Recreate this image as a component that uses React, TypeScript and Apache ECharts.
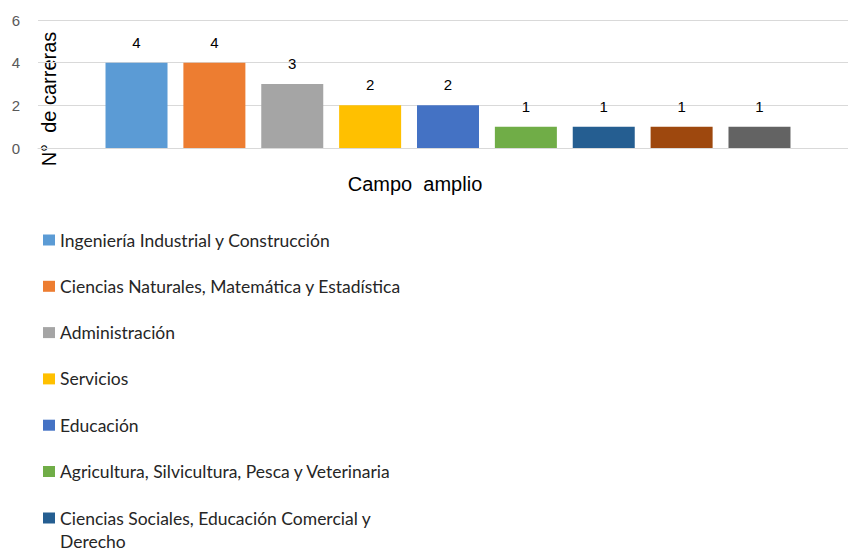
import React, { useEffect, useRef } from "react";
import * as echarts from "echarts";

const categories: string[] = [
  "Ingeniería Industrial y Construcción",
  "Ciencias Naturales, Matemática y Estadística",
  "Administración",
  "Servicios",
  "Educación",
  "Agricultura, Silvicultura, Pesca y Veterinaria",
  "Ciencias Sociales, Educación Comercial y Derecho",
  "Salud y Bienestar",
  "Artes y Humanidades",
];
const values: number[] = [4, 4, 3, 2, 2, 1, 1, 1, 1];
const colors: string[] = [
  "#5B9BD5",
  "#ED7D31",
  "#A5A5A5",
  "#FFC000",
  "#4472C4",
  "#70AD47",
  "#255E91",
  "#9E480E",
  "#636363",
];
const yTicks: number[] = [0, 2, 4, 6];
const xAxisTitle = "Campo  amplio";
const yAxisTitle = "N°  de carreras";
const wrappedLegend = ["Ciencias Sociales, Educación Comercial y", "Derecho"];

const legendFont = "Lato, 'Open Sans', sans-serif";
const arial = "'Liberation Sans', Arial, sans-serif";

export default function App() {
  const ref = useRef<HTMLDivElement>(null);
  useEffect(() => {
    if (!ref.current) return;
    const chart = echarts.init(ref.current, undefined, { renderer: "svg" });
    const series = categories.map((name, i) => ({
      name,
      type: "bar" as const,
      data: [values[i]],
      barWidth: 62,
      barGap: "25.6%",
      itemStyle: { color: colors[i] },
      label: {
        show: true,
        position: "top" as const,
        distance: 13,
        color: "#000",
        fontSize: 15,
        fontFamily: arial,
      },
    }));
    const legendText = {
      fontSize: 17.5,
      fontFamily: legendFont,
      color: "#262626",
      lineHeight: 23,
    };
    chart.setOption({
      animation: false,
      backgroundColor: "#fff",
      grid: {
        left: 38,
        top: 20,
        width: 820,
        height: 128,
        containLabel: false,
        outerBoundsMode: "none",
      },
      xAxis: {
        type: "category",
        data: [xAxisTitle],
        axisLabel: { show: false },
        axisTick: { show: false },
        axisLine: { show: true, lineStyle: { color: "#d9d9d9", width: 1 } },
      },
      yAxis: {
        type: "value",
        min: yTicks[0],
        max: yTicks[yTicks.length - 1],
        interval: 2,
        axisLine: { show: false },
        axisTick: { show: false },
        splitLine: { lineStyle: { color: "#d9d9d9", width: 1 } },
        axisLabel: {
          margin: 18,
          fontSize: 15,
          color: "#595959",
          fontFamily: arial,
        },
      },
      graphic: [
        {
          type: "text",
          x: 415,
          y: 184,
          style: {
            text: xAxisTitle,
            fontSize: 20,
            fontFamily: arial,
            fill: "#000",
            align: "center",
            verticalAlign: "middle",
          },
        },
        {
          type: "text",
          x: 49,
          y: 99,
          rotation: Math.PI / 2,
          style: {
            text: yAxisTitle,
            fontSize: 20,
            fontFamily: arial,
            fill: "#000",
            align: "center",
            verticalAlign: "middle",
          },
        },
      ],
      legend: [
        {
          orient: "vertical",
          left: 43,
          top: 228.5,
          padding: 0,
          itemWidth: 12,
          itemHeight: 11,
          itemGap: 23.3,
          icon: "rect",
          data: categories.slice(0, 6),
          textStyle: legendText,
        },
        {
          orient: "vertical",
          left: 43,
          top: 483.5,
          padding: 0,
          itemWidth: 12,
          itemHeight: 11,
          icon: "rect",
          data: [categories[6]],
          formatter: () =>
            "{p| }\n{t|" + wrappedLegend[0] + "}\n{t|" + wrappedLegend[1] + "}",
          textStyle: {
            ...legendText,
            rich: {
              p: { lineHeight: 23, fontSize: 17.5, fontFamily: legendFont },
              t: {
                lineHeight: 23,
                fontSize: 17.5,
                fontFamily: legendFont,
                color: "#262626",
              },
            },
          },
        },
      ],
      series,
    });
    return () => chart.dispose();
  }, []);
  return (
    <div
      ref={ref}
      style={{ position: "fixed", left: 0, top: 0, width: 848, height: 549, background: "#fff" }}
    />
  );
}
